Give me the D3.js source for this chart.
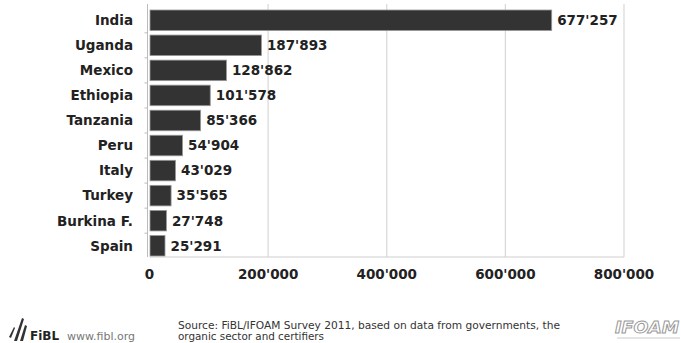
<!DOCTYPE html>
<html><head><meta charset="utf-8">
<script src="https://cdn.jsdelivr.net/npm/d3@7"></script>
<style>body{margin:0;background:#fff}svg{display:block}text{font-family:"DejaVu Sans",sans-serif}</style>
</head><body><svg id="c" width="681" height="343"></svg>
<script>
const countries = ["India","Uganda","Mexico","Ethiopia","Tanzania","Peru","Italy","Turkey","Burkina F.","Spain"];
const producers = [677257,187893,128862,101578,85366,54904,43029,35565,27748,25291];
const xTicks = [0,200000,400000,600000,800000];

const fmt = v => d3.format(",")(v).replace(/,/g,"'");
const svg = d3.select("#c");
const x = d3.scaleLinear().domain([0,800000]).range([149.5,624]);
const y = d3.scaleBand().domain(countries).range([7.5,258.5]).paddingInner(0.18).paddingOuter(0.1);

// gridlines
svg.append("g").selectAll("line").data(xTicks.slice(1)).join("line")
  .attr("x1",d=>x(d)).attr("x2",d=>x(d)).attr("y1",4).attr("y2",257)
  .attr("stroke","#d8d8d8").attr("stroke-width",1.2);
// bottom axis line
svg.append("line").attr("x1",x(0)).attr("x2",x(800000)).attr("y1",257).attr("y2",257).attr("stroke","#d0d0d0").attr("stroke-width",1.2);
// left axis
const yl = svg.append("g").attr("transform",`translate(${x(0)-2},0)`);
yl.append("line").attr("y1",4).attr("y2",257).attr("stroke","#bbb");
yl.selectAll("line.t").data(countries.slice(1)).join("line").attr("class","t")
  .attr("x1",-3).attr("x2",0).attr("y1",d=>y(d)-y.step()*y.paddingInner()/2).attr("y2",d=>y(d)-y.step()*y.paddingInner()/2).attr("stroke","#bbb");

// bars
svg.append("g").selectAll("rect").data(countries).join("rect")
  .attr("x",x(0)+0.5).attr("y",d=>y(d))
  .attr("width",(d,i)=>x(producers[i])-x(0))
  .attr("height",y.bandwidth())
  .attr("fill","#333").attr("stroke","#999").attr("stroke-width",0.8);

// category labels
svg.append("g").selectAll("text").data(countries).join("text")
  .attr("x",133).attr("y",d=>y(d)+y.bandwidth()/2).attr("dy","0.36em")
  .attr("text-anchor","end").attr("font-size",13.5).attr("font-weight","bold").attr("fill","#222")
  .text(d=>d);
// value labels
svg.append("g").selectAll("text").data(countries).join("text")
  .attr("x",(d,i)=>x(producers[i])+6).attr("y",d=>y(d)+y.bandwidth()/2).attr("dy","0.36em")
  .attr("font-size",13.5).attr("font-weight","bold").attr("fill","#222")
  .text((d,i)=>fmt(producers[i]));
// x tick labels
svg.append("g").selectAll("text").data(xTicks).join("text")
  .attr("x",d=>x(d)).attr("y",279).attr("text-anchor","middle")
  .attr("font-size",13.5).attr("font-weight","bold").attr("fill","#222")
  .text(d=>fmt(d));

// footer
const f = svg.append("g");
f.append("path").attr("d","M14,341 L22,318 L24,319 L17,341 Z M20,341 L25,325 L27,326 L23,341 Z M9,337 L14,327 L15,328 L11,338 Z").attr("fill","#333");
f.append("text").attr("x",30).attr("y",340).attr("font-size",12).attr("font-weight","bold").attr("fill","#222").text("FiBL");
f.append("text").attr("x",67).attr("y",340).attr("font-size",11).attr("fill","#777").text("www.fibl.org");
f.append("text").attr("x",178).attr("y",329).attr("font-size",10.5).attr("fill","#333").attr("textLength",382).attr("lengthAdjust","spacingAndGlyphs").text("Source: FiBL/IFOAM Survey 2011, based on data from governments,  the");
f.append("text").attr("x",178).attr("y",340).attr("font-size",10.5).attr("fill","#333").attr("textLength",146).attr("lengthAdjust","spacingAndGlyphs").text("organic sector and certifiers");
f.append("text").attr("x",615).attr("y",333).attr("font-size",15).attr("font-style","italic").attr("font-weight","bold").attr("fill","none").attr("stroke","#999").attr("stroke-width",0.9).attr("textLength",64).attr("lengthAdjust","spacingAndGlyphs").text("IFOAM");
f.append("line").attr("x1",617).attr("x2",680).attr("y1",338).attr("y2",338).attr("stroke","#ccc");
</script></body></html>
